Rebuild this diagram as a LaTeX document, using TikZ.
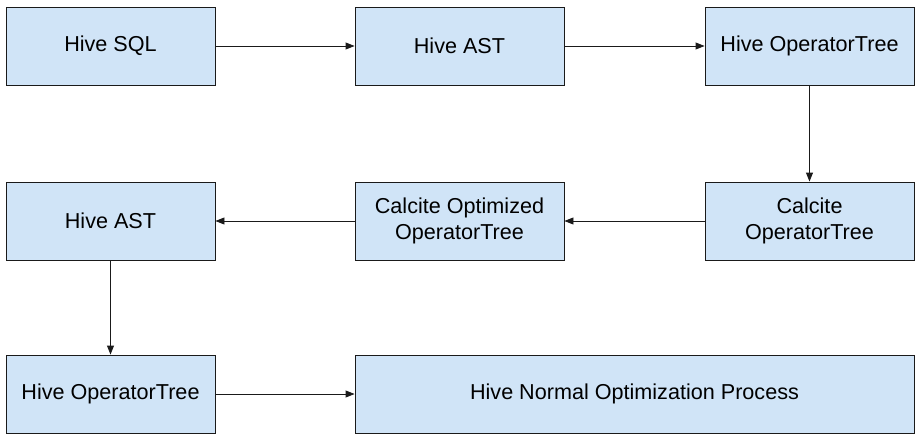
\documentclass[tikz,border=0pt]{standalone}
\usepackage{fontspec}
\setmainfont{Liberation Sans}
\usetikzlibrary{arrows.meta}
\definecolor{boxblue}{HTML}{D0E4F7}
\definecolor{lineblk}{HTML}{1A1A1A}

\begin{document}
\begin{tikzpicture}[x=1pt, y=-1pt,
    stage/.style={draw=lineblk, fill=boxblue, line width=0.9pt,
      minimum width=209pt, minimum height=78pt, inner sep=0pt,
      align=center, font=\fontsize{21.6}{26}\selectfont},
    flow/.style={draw=lineblk, line width=0.9pt,
      -{Triangle[length=9pt, width=7pt]}}]
    \useasboundingbox (0,0) rectangle (920,442);
    % first row
    \node [stage] (sql)   at (110.5,46) {Hive SQL};
    \node [stage] (ast)   at (459.5,46) {Hive AST};
    \node [stage] (optree) at (809.5,46) {Hive OperatorTree};
    % second row
    \node [stage] (calc)  at (809.5,221) {Calcite\\OperatorTree};
    \node [stage] (calcopt) at (459.5,221) {Calcite Optimized\\OperatorTree};
    \node [stage] (ast2)  at (110.5,221) {Hive AST};
    % third row
    \node [stage] (optree2) at (110.5,394) {Hive OperatorTree};
    \node [stage, minimum width=559pt] (normal) at (634.5,394)
      {Hive Normal Optimization Process};
    \draw [flow] (sql) -- (ast);
    \draw [flow] (ast) -- (optree);
    \draw [flow] (optree) -- (calc);
    \draw [flow] (calc) -- (calcopt);
    \draw [flow] (calcopt) -- (ast2);
    \draw [flow] (ast2) -- (optree2);
    \draw [flow] (optree2) -- (normal);
\end{tikzpicture}
\end{document}
